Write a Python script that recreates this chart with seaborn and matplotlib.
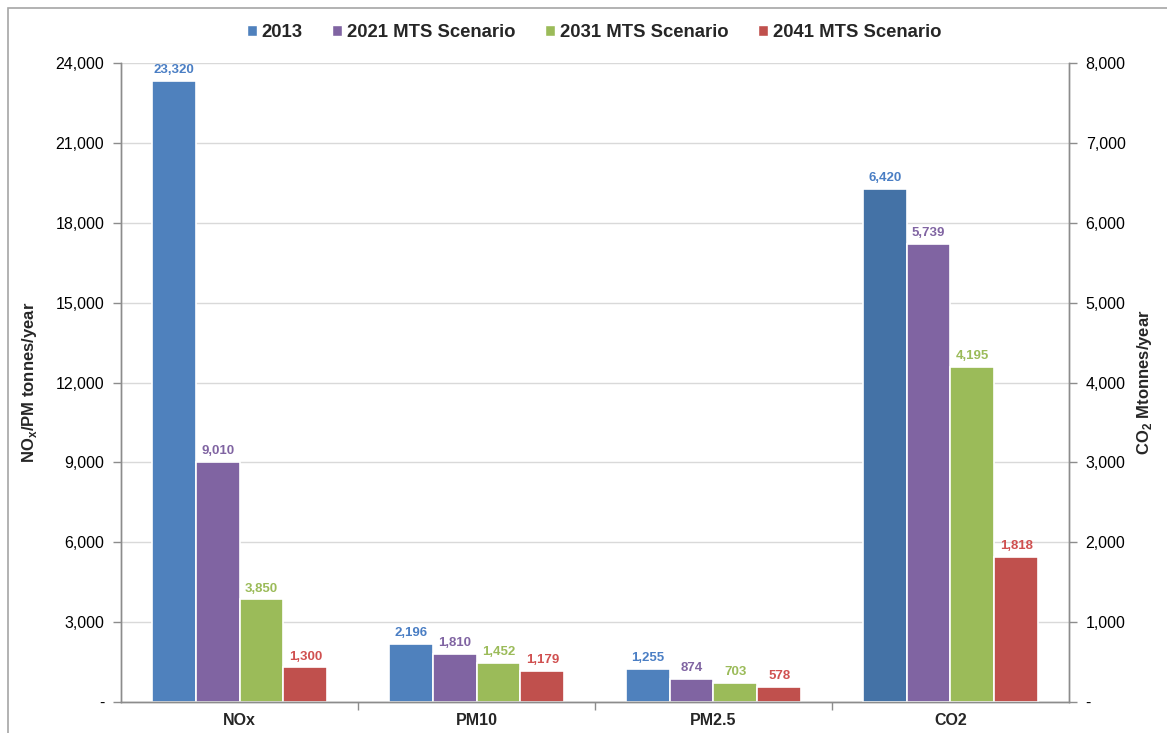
import matplotlib
matplotlib.use("Agg")
import matplotlib.pyplot as plt
import matplotlib.ticker as mticker
from matplotlib.patches import Rectangle, Patch
import seaborn as sns
import pandas as pd
import numpy as np

categories = ["NOx", "PM10", "PM2.5", "CO2"]
series = ["2013", "2021 MTS Scenario", "2031 MTS Scenario", "2041 MTS Scenario"]
nox = [23320, 9010, 3850, 1300]
pm10 = [2196, 1810, 1452, 1179]
pm25 = [1255, 874, 703, 578]
co2 = [6420, 5739, 4195, 1818]

colors = ["#4F81BD", "#8064A2", "#9BBB59", "#C0504D"]
label_colors = ["#4A7EC4", "#8064A2", "#9BBB59", "#D05050"]
co2_2013_color = "#4472A6"

sns.set_theme(style="white")
plt.rcParams["font.family"] = ["Liberation Sans", "DejaVu Sans"]

rows = []
for cat, vals in zip(categories[:3], [nox, pm10, pm25]):
    for s, v in zip(series, vals):
        rows.append({"cat": cat, "series": s, "value": v})
df_left = pd.DataFrame(rows)
df_right = pd.DataFrame({"cat": ["CO2"] * 4, "series": series, "value": co2})

fig = plt.figure(figsize=(11.67, 7.33), dpi=100)
ax = fig.add_axes([0.1037, 0.0423, 0.8123, 0.8717])
ax2 = ax.twinx()

pal = dict(zip(series, colors))
bw = 0.74
sns.barplot(data=df_left, x="cat", y="value", hue="series", order=categories,
            hue_order=series, palette=pal, width=bw, ax=ax, edgecolor="white",
            linewidth=1.2, saturation=1, legend=False)
sns.barplot(data=df_right, x="cat", y="value", hue="series", order=categories,
            hue_order=series, palette=pal, width=bw, ax=ax2, edgecolor="white",
            linewidth=1.2, saturation=1, legend=False)

# darker 2013 bar for CO2
for p in ax2.containers[0].patches:
    if not np.isnan(p.get_height()) and p.get_height() > 0:
        p.set_facecolor(co2_2013_color)

for a in (ax, ax2):
    for i, cont in enumerate(a.containers):
        labs = []
        for p in cont.patches:
            h = p.get_height()
            labs.append(f"{h:,.0f}" if (h is not None and not np.isnan(h) and h > 0) else "")
        a.bar_label(cont, labels=labs, padding=3.5, color=label_colors[i],
                    fontsize=9.5, fontweight="bold")

ax.set_ylim(0, 24000)
ax2.set_ylim(0, 8000)
ax.set_xlim(-0.5, 3.5)
ax.set_yticks(np.arange(0, 24001, 3000))
ax2.set_yticks(np.arange(0, 8001, 1000))
fmt = mticker.FuncFormatter(lambda v, p: "-" if v == 0 else f"{v:,.0f}")
ax.yaxis.set_major_formatter(fmt)
ax2.yaxis.set_major_formatter(fmt)

ax.grid(axis="y", color="#D9D9D9", linewidth=1)
ax.set_axisbelow(True)
ax2.grid(False)

spine_c = "#8C8C8C"
for a in (ax, ax2):
    a.spines["top"].set_visible(False)
    for side in ["left", "right", "bottom"]:
        a.spines[side].set_color(spine_c)
        a.spines[side].set_linewidth(1)

ax.tick_params(axis="y", direction="out", length=6, color=spine_c, width=1,
               labelsize=11.5, pad=6, left=True, labelcolor="#000000")
ax2.tick_params(axis="y", direction="out", length=6, color=spine_c, width=1,
                labelsize=11.5, pad=6, right=True, labelcolor="#000000")

ax.set_xticks(range(4))
ax.set_xticklabels(categories, fontsize=11.5, fontweight="bold")
ax.tick_params(axis="x", which="major", length=0, pad=8)
ax.set_xticks([0.5, 1.5, 2.5], minor=True)
ax.tick_params(axis="x", which="minor", direction="out", length=6, color=spine_c, width=1, bottom=True)
ax.set_xlabel("")

ax.set_ylabel(r"NO$_\mathregular{x}$/PM tonnes/year", fontsize=12, fontweight="bold", labelpad=12)
ax2.set_ylabel(r"CO$_\mathregular{2}$ Mtonnes/year", fontsize=12, fontweight="bold", labelpad=7)

handles = [Patch(facecolor=c, edgecolor="white") for c in colors]
fig.legend(handles, series, loc="center", bbox_to_anchor=(0.509, 0.956), ncol=4,
           frameon=False, prop={"weight": "bold", "size": 13.3},
           handlelength=0.55, handleheight=0.55, handletextpad=0.25, columnspacing=1.6)

# outer frame
fig.patches.append(Rectangle((8 / 1167, -0.1), 1.2, 1 - 8 / 733 + 0.1, transform=fig.transFigure,
                             fill=False, edgecolor="#A6A6A6", linewidth=1.2, zorder=0))

fig.savefig("out.png", dpi=100)
